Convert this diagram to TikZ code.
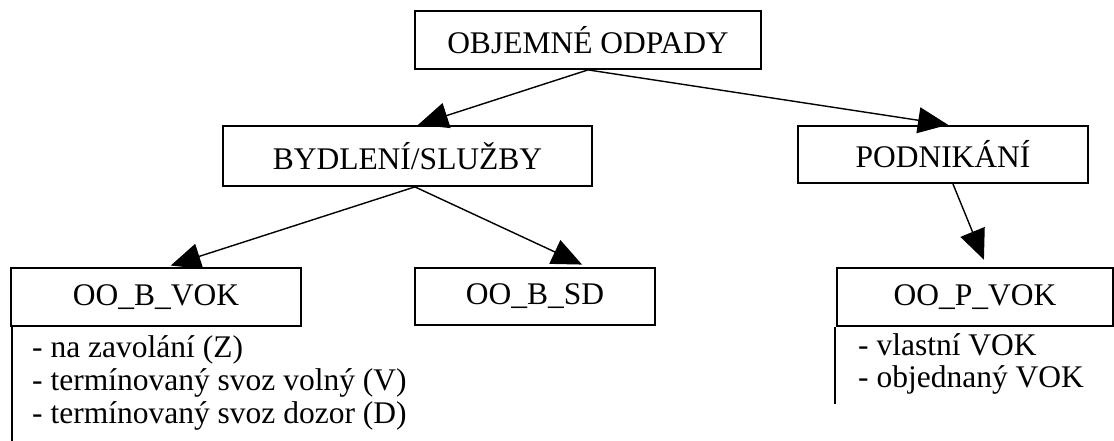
\documentclass[tikz,border=0pt]{standalone}
\usepackage{fontspec}
\setmainfont{Liberation Serif}
\usetikzlibrary{arrows.meta,calc}
\begin{document}
\begin{tikzpicture}[x=1pt,y=-1pt,
  box/.style={draw=black,line width=1.8pt,inner sep=0pt,font=\fontsize{31.5}{34}\selectfont},
  conn/.style={line width=1.4pt,-{Triangle[length=30pt,width=26pt]}},
  item/.style={anchor=base west,inner sep=0pt,font=\fontsize{31.5}{34}\selectfont},
  side/.style={line width=1.2pt}]
\useasboundingbox (0,0) rectangle (1114,441);
\node[box,minimum width=346pt,minimum height=58pt] (top) at (588,40) {OBJEMNÉ ODPADY};
\node[box,minimum width=369pt,minimum height=60pt] (byd) at (407.5,156) {BYDLENÍ/SLUŽBY};
\node[box,minimum width=290pt,minimum height=57pt] (pod) at (943,154.5) {PODNIKÁNÍ};
\node[box,minimum width=290pt,minimum height=58pt] (vok) at (156,297) {OO\_B\_VOK};
\node[box,minimum width=240pt,minimum height=57pt] (sd) at (535,296.5) {OO\_B\_SD};
\node[box,minimum width=276pt,minimum height=58pt] (pvok) at (975,297) {OO\_P\_VOK};
\draw[conn,shorten >=1pt] (top.south) -- ($(byd.north west)!0.526!(byd.north east)$);
\draw[conn,shorten >=2pt] (top.south) -- ($(pod.north west)!0.524!(pod.north east)$);
\draw[conn,shorten >=5pt] ($(byd.south west)!0.52!(byd.south east)$) -- ($(vok.north west)!0.534!(vok.north east)$);
\draw[conn,shorten >=6pt] ($(byd.south west)!0.52!(byd.south east)$) -- ($(sd.north west)!0.717!(sd.north east)$);
\draw[conn,shorten >=8pt] ($(pod.south west)!0.534!(pod.south east)$) -- ($(pvok.north west)!0.543!(pvok.north east)$);
\coordinate (vokend) at (12,441);
\coordinate (pvokend) at (835,404);
\draw[side] (vok.south west -| vokend) -- (vokend);
\draw[side] (pvok.south west -| pvokend) -- (pvokend);
\node[item] (z) at (32,357) {- na zavolání (Z)};
\node[item] (v) at (32,390) {- termínovaný svoz volný (V)};
\node[item] (d) at (32,423) {- termínovaný svoz dozor (D)};
\node[item] (vl) at (858,355) {- vlastní VOK};
\node[item] (ob) at (858,387) {- objednaný VOK};
\end{tikzpicture}
\end{document}
